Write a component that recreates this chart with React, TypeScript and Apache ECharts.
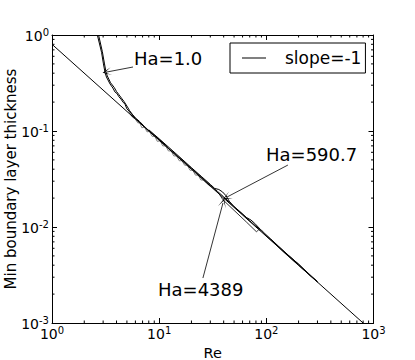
import React, { useEffect, useRef } from "react";
import * as echarts from "echarts";

const FONT = "DejaVu Sans";

// x / y ranges (log axes)
const xRange = [1, 1000];
const yRange = [0.001, 1];

// slope = -1 reference line
const slopeLine = [
  [1, 0.8],
  [1000, 0.0008],
];

// Ha = 1.0 curves
const curveHa1a = [
  [2.65, 1.0], [2.9, 0.66], [3.02, 0.5], [3.12, 0.41], [3.22, 0.365], [3.48, 0.309],
  [3.7, 0.28], [3.87, 0.255], [4.05, 0.245], [4.2, 0.228], [4.4, 0.215], [4.6, 0.2],
  [4.8, 0.19], [5.0, 0.17], [5.34, 0.158], [5.6, 0.147], [6.0, 0.135], [6.5, 0.124],
  [7.0, 0.114], [7.6, 0.105], [8.3, 0.097], [9.0, 0.089], [10, 0.081], [12, 0.067],
  [14, 0.058], [17, 0.048], [20, 0.041], [25, 0.0328], [30, 0.0272], [35, 0.0235],
  [40, 0.0206], [45, 0.0182], [50, 0.0163], [60, 0.0136], [70, 0.0116], [80, 0.0102],
  [90, 0.0091], [100, 0.0081], [120, 0.0068], [150, 0.0054], [200, 0.0041],
  [250, 0.0032], [300, 0.0027],
];
const curveHa1b = [
  [2.72, 1.0], [2.95, 0.67], [3.08, 0.51], [3.18, 0.42], [3.28, 0.375], [3.52, 0.318],
  [3.8, 0.285], [4.0, 0.258], [4.2, 0.24], [4.45, 0.22], [4.7, 0.203], [5.0, 0.182],
  [5.3, 0.163], [5.6, 0.15], [6.0, 0.137], [6.6, 0.125], [7.2, 0.113], [8.0, 0.101],
  [9.0, 0.09], [10, 0.082], [12, 0.068],
];

// grey zig-zag curve
const curveZig = [
  [5.2, 0.16], [5.6, 0.14], [6.0, 0.133], [6.3, 0.122], [6.6, 0.121], [6.9, 0.108],
  [7.3, 0.11], [7.7, 0.098], [8.1, 0.099], [8.6, 0.088], [9.1, 0.088], [9.6, 0.078],
  [10.2, 0.079], [10.8, 0.07], [11.5, 0.07], [12.2, 0.062], [12.9, 0.062], [13.7, 0.055],
  [14.5, 0.055], [15.4, 0.049], [16.3, 0.049], [17.3, 0.044], [18.3, 0.044], [19.4, 0.039],
  [20.6, 0.039], [21.8, 0.0347], [23.1, 0.0347], [24.5, 0.0309], [26, 0.0308],
  [28, 0.0282], [30, 0.0265],
];

// Ha = 590.7 curve
const curveHa590 = [
  [8, 0.103], [10, 0.083], [15, 0.0555], [20, 0.0415], [25, 0.0333], [30, 0.0278],
  [33, 0.0252], [36, 0.0246], [39, 0.0232], [42, 0.0212], [45, 0.0186], [50, 0.0163],
  [55, 0.0149], [65, 0.0126], [72, 0.0118], [78, 0.0109], [90, 0.0092], [110, 0.0075],
  [130, 0.0063], [160, 0.0051], [200, 0.0041], [250, 0.00325], [300, 0.0027],
];

// Ha = 4389 curve
const curveHa4389 = [
  [12, 0.067], [20, 0.0405], [30, 0.027], [36, 0.0224], [39.4, 0.0192], [50, 0.0149],
  [65, 0.0113], [81, 0.0089], [85, 0.0094], [90, 0.0093], [100, 0.0081], [120, 0.0067],
  [150, 0.0053], [200, 0.00398], [250, 0.0032], [300, 0.00266],
];

// minor tick values
const xMinorTicks = [
  2, 3, 4, 5, 6, 7, 8, 9, 20, 30, 40, 50, 60, 70, 80, 90, 200, 300, 400, 500, 600, 700, 800, 900,
];
const yMinorTicks = [
  0.002, 0.003, 0.004, 0.005, 0.006, 0.007, 0.008, 0.009,
  0.02, 0.03, 0.04, 0.05, 0.06, 0.07, 0.08, 0.09,
  0.2, 0.3, 0.4, 0.5, 0.6, 0.7, 0.8, 0.9,
];

// annotations: label, text position (px), arrow tail [Re, y], arrow head [Re, y]
const annotations = [
  { label: "Ha=1.0", tx: 134, ty: 58, tail: [5.7, 0.464], head: [3.26, 0.412] },
  { label: "Ha=590.7", tx: 266, ty: 154, tail: [159, 0.0442], head: [42.9, 0.0205] },
  { label: "Ha=4389", tx: 158, ty: 289, tail: [25.6, 0.00294], head: [39.4, 0.0178] },
];

const supLabel = (v: number) => {
  const e = Math.round(Math.log10(v));
  return `{b|10}{s|${e}}`;
};

const rich = {
  b: { fontSize: 14, fontFamily: FONT, color: "#000", lineHeight: 16, verticalAlign: "bottom" },
  s: { fontSize: 10, fontFamily: FONT, color: "#000", lineHeight: 16, verticalAlign: "top" },
};

export default function App() {
  const ref = useRef<HTMLDivElement>(null);
  useEffect(() => {
    if (!ref.current) return;
    const chart = echarts.init(ref.current, null, { renderer: "svg" });
    const curveStyle = (c: string) => ({
      type: "line",
      showSymbol: false,
      symbol: "none",
      lineStyle: { color: c, width: 1 },
      itemStyle: { color: c },
      silent: true,
      z: 3,
    });
    const axisCommon = {
      type: "log",
      logBase: 10,
      axisLine: { show: true, onZero: false, lineStyle: { color: "#000", width: 1 } },
      axisTick: { show: true, inside: true, length: 5, lineStyle: { color: "#000" } },
      splitLine: { show: false },
    };
    const tickSeries = (data: number[][], vertical: boolean) => ({
      type: "custom",
      coordinateSystem: "cartesian2d",
      silent: true,
      clip: false,
      z: 5,
      data,
      renderItem: (params: any, api: any) => {
        const a = api.value(0);
        const b = api.value(1);
        if (vertical) {
          const p1 = api.coord([a, yRange[0]]);
          const p2 = api.coord([a, yRange[1]]);
          return {
            type: "group",
            children: [
              { type: "line", shape: { x1: p1[0], y1: p1[1], x2: p1[0], y2: p1[1] - 2.5 }, style: { stroke: "#000", lineWidth: 1 } },
              { type: "line", shape: { x1: p2[0], y1: p2[1], x2: p2[0], y2: p2[1] + 2.5 }, style: { stroke: "#000", lineWidth: 1 } },
            ],
          };
        }
        const p1 = api.coord([xRange[0], b]);
        const p2 = api.coord([xRange[1], b]);
        return {
          type: "group",
          children: [
            { type: "line", shape: { x1: p1[0], y1: p1[1], x2: p1[0] + 2.5, y2: p1[1] }, style: { stroke: "#000", lineWidth: 1 } },
            { type: "line", shape: { x1: p2[0], y1: p2[1], x2: p2[0] - 2.5, y2: p2[1] }, style: { stroke: "#000", lineWidth: 1 } },
          ],
        };
      },
    });

    chart.setOption({
      animation: false,
      backgroundColor: "#fff",
      textStyle: { fontFamily: FONT },
      grid: { left: 52, right: 41.5, top: 35, bottom: 37, containLabel: false, outerBoundsMode: "none" },
      legend: {
        data: [{ name: "slope=-1", icon: "rect" }],
        left: 230,
        top: 43,
        orient: "vertical",
        backgroundColor: "#fff",
        borderColor: "#000",
        borderWidth: 1,
        borderRadius: 0,
        padding: [5, 4, 5, 12],
        itemWidth: 24,
        itemHeight: 1,
        itemStyle: { color: "#000" },
        textStyle: { fontFamily: FONT, fontSize: 17, color: "#000", padding: [0, 0, 0, 14], lineHeight: 20 },
        selectedMode: false,
      },
      xAxis: [
        {
          ...axisCommon,
          min: xRange[0],
          max: xRange[1],
          position: "bottom",
          name: "Re",
          nameLocation: "middle",
          nameGap: 18,
          nameTextStyle: { fontFamily: FONT, fontSize: 14.5, color: "#000" },
          axisLabel: { show: true, margin: 2, formatter: supLabel, rich },
        },
        {
          ...axisCommon,
          min: xRange[0],
          max: xRange[1],
          position: "top",
          axisLabel: { show: false },
        },
      ],
      yAxis: [
        {
          ...axisCommon,
          min: yRange[0],
          max: yRange[1],
          position: "left",
          name: "Min boundary layer thickness",
          nameLocation: "middle",
          nameGap: 34,
          nameMoveOverlap: false,
          nameTextStyle: { fontFamily: FONT, fontSize: 15, color: "#000" },
          axisLabel: { show: true, margin: 3, formatter: supLabel, rich },
        },
        {
          ...axisCommon,
          min: yRange[0],
          max: yRange[1],
          position: "right",
          axisLabel: { show: false },
        },
      ],
      graphic: annotations.map((a) => ({
        type: "text",
        x: a.tx,
        y: a.ty,
        z: 10,
        silent: true,
        style: { text: a.label, font: `18px '${FONT}'`, fill: "#000", align: "left", verticalAlign: "middle" },
      })),
      series: [
        {
          name: "slope=-1",
          ...curveStyle("#000"),
          z: 4,
          data: slopeLine,
          markLine: {
            silent: true,
            symbol: ["none", "path://M0,0 L5,10 L0,2.5 L-5,10 Z"],
            symbolSize: [8, 9],
            label: { show: false },
            lineStyle: { color: "#000", width: 0.8, type: "solid" },
            data: annotations.map((a) => [{ coord: a.tail }, { coord: a.head }]),
          },
        },
        { name: "ha1a", ...curveStyle("#000"), data: curveHa1a },
        { name: "ha1b", ...curveStyle("#000"), data: curveHa1b },
        { name: "zig", ...curveStyle("#808080"), data: curveZig },
        { name: "ha590", ...curveStyle("#000"), data: curveHa590 },
        { name: "ha4389", ...curveStyle("#333"), data: curveHa4389 },
        tickSeries(xMinorTicks.map((v) => [v, yRange[0]]), true),
        tickSeries(yMinorTicks.map((v) => [xRange[0], v]), false),
      ],
    });
    return () => chart.dispose();
  }, []);
  return (
    <div
      ref={ref}
      style={{ position: "fixed", left: 0, top: 0, width: 415, height: 360 }}
    />
  );
}
